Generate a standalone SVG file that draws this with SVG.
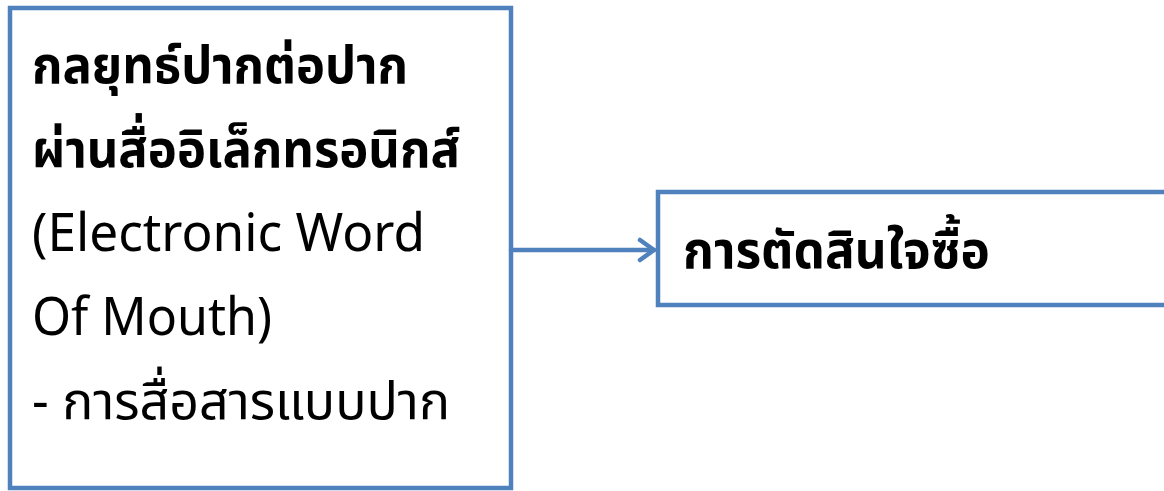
<svg xmlns="http://www.w3.org/2000/svg" width="1164" height="491" viewBox="0 0 1164 491">
  <style>
    .box { fill: #ffffff; stroke: #4F81BD; stroke-width: 4.5; }
    .conn { fill: none; stroke: #4F81BD; stroke-width: 4.5; stroke-linecap: round; stroke-linejoin: round; }
    .t { font-family: "Noto Sans Thai", "Noto Sans Thai Looped", "Leelawadee UI", Tahoma, "Noto Sans", sans-serif; font-size: 52px; fill: #000000; }
    .b { font-weight: bold; }
  </style>
  <defs>
    <clipPath id="clipLeft"><rect x="12" y="10" width="497" height="472"/></clipPath>
  </defs>
  <rect width="1164" height="491" fill="#ffffff"/>
  <g id="node-left">
    <rect class="box" x="10" y="8" width="501" height="480"/>
    <g clip-path="url(#clipLeft)">
      <text class="t b" x="32" y="83" textLength="376" lengthAdjust="spacingAndGlyphs">กลยุทธ์ปากต่อปาก</text>
      <text class="t b" x="32" y="167" textLength="428" lengthAdjust="spacingAndGlyphs">ผ่านสื่ออิเล็กทรอนิกส์</text>
      <text class="t" x="32" y="251" textLength="393" lengthAdjust="spacingAndGlyphs">(Electronic Word</text>
      <text class="t" x="32" y="335" textLength="240" lengthAdjust="spacingAndGlyphs">Of Mouth)</text>
      <text class="t" x="32" y="419" textLength="418" lengthAdjust="spacingAndGlyphs">- การสื่อสารแบบปาก</text>
    </g>
  </g>
  <g id="node-right">
    <rect class="box" x="658" y="192" width="510" height="113"/>
    <text class="t b" x="683" y="268" textLength="307" lengthAdjust="spacingAndGlyphs">การตัดสินใจซื้อ</text>
  </g>
  <g id="connectors">
    <line class="conn" x1="511" y1="250" x2="654" y2="250"/>
    <polyline class="conn" points="640,240 654,250 640,260"/>
  </g>
</svg>
